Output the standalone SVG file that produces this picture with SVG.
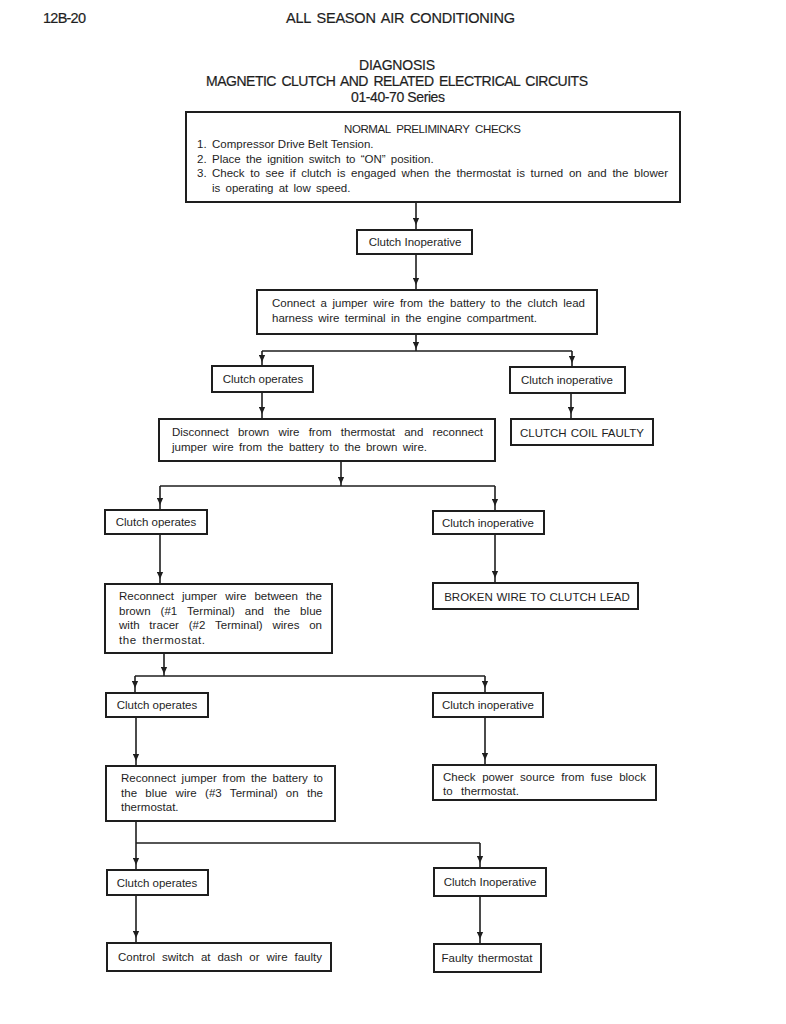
<svg xmlns="http://www.w3.org/2000/svg" width="786" height="1024" viewBox="0 0 786 1024">
<defs>
<style>
text{font-family:"Liberation Sans",Arial,sans-serif;fill:#1e1e1e;font-size:11.5px;word-spacing:2px}
.hdr{font-size:14.5px;stroke:#1e1e1e;stroke-width:0.2px;word-spacing:0}
.ttl{font-size:14px;stroke:#1e1e1e;stroke-width:0.2px;word-spacing:0}
.c{text-anchor:middle}
.nw{word-spacing:0}
.box{fill:none;stroke:#1e1e1e;stroke-width:2}
.con{fill:none;stroke:#1e1e1e;stroke-width:1.6;marker-mid:url(#ah)}
.ln{fill:none;stroke:#1e1e1e;stroke-width:1.6}
</style>
<marker id="ah" viewBox="0 0 10 10" refX="10" refY="5" markerWidth="8" markerHeight="7" markerUnits="userSpaceOnUse" orient="auto">
<path d="M0,0.5 L10,5 L0,9.5 z" fill="#1e1e1e"/>
</marker>
</defs>
<rect width="786" height="1024" fill="#ffffff"/>

<g id="header">
<text class="hdr" x="43" y="23" textLength="43">12B-20</text>
<text class="hdr" x="286" y="23" textLength="229" style="word-spacing:2px">ALL SEASON AIR CONDITIONING</text>
<text class="ttl" x="359" y="70" textLength="76">DIAGNOSIS</text>
<text class="ttl" x="206" y="86" textLength="382" style="word-spacing:2px">MAGNETIC CLUTCH AND RELATED ELECTRICAL CIRCUITS</text>
<text class="ttl" x="351" y="102" textLength="94">01-40-70 Series</text>
</g>

<g id="connectors">
<path class="con" d="M416,202 L416,225 L416,230"/>
<path class="con" d="M416,254 L416,285 L416,290"/>
<path class="con" d="M416,334 L416,349 L416,351"/>
<path class="ln" d="M262,351 L572,351"/>
<path class="con" d="M262,351 L262,362 L262,366"/>
<path class="con" d="M572,351 L572,363 L572,367"/>
<path class="con" d="M262,392 L262,414 L262,419"/>
<path class="con" d="M571,393 L571,414 L571,419"/>
<path class="con" d="M341,461 L341,484 L341,486"/>
<path class="ln" d="M160,486 L495,486"/>
<path class="con" d="M160,486 L160,505 L160,510"/>
<path class="con" d="M495,486 L495,506 L495,511"/>
<path class="con" d="M160,534 L160,579 L160,584"/>
<path class="con" d="M495,534 L495,578 L495,583"/>
<path class="con" d="M164,653 L164,674 L164,676"/>
<path class="ln" d="M135,676 L485,676"/>
<path class="con" d="M135,676 L135,688 L135,693"/>
<path class="con" d="M485,676 L485,688 L485,693"/>
<path class="con" d="M136,717 L136,761 L136,766"/>
<path class="con" d="M485,717 L485,760 L485,765"/>
<path class="con" d="M136,821 L136,865 L136,870"/>
<path class="ln" d="M136,843 L480,843"/>
<path class="con" d="M480,843 L480,863 L480,868"/>
<path class="con" d="M136,895 L136,938 L136,943"/>
<path class="con" d="M480,896 L480,939 L480,944"/>
</g>

<g id="n-preliminary">
<rect class="box" x="186" y="112" width="494" height="90"/>
<text x="344" y="133" textLength="177" style="word-spacing:3px">NORMAL PRELIMINARY CHECKS</text>
<text x="197" y="148">1.</text>
<text x="212" y="148" class="nw">Compressor Drive Belt Tension.</text>
<text x="197" y="162.5">2.</text>
<text x="212" y="162.5">Place the ignition switch to “ON” position.</text>
<text x="197" y="177">3.</text>
<text x="212" y="177" textLength="456" style="word-spacing:2.5px">Check to see if clutch is engaged when the thermostat is turned on and the blower</text>
<text x="212" y="191.5">is operating at low speed.</text>
</g>

<g id="n-clutch-inop-0">
<rect class="box" x="357" y="230" width="115" height="24"/>
<text class="c nw" x="415" y="246">Clutch Inoperative</text>
</g>

<g id="n-connect">
<rect class="box" x="257" y="290" width="340" height="44"/>
<text x="272" y="307" textLength="313" style="word-spacing:2.4px">Connect a jumper wire from the battery to the clutch lead</text>
<text x="272" y="322" textLength="265" style="word-spacing:2.2px">harness wire terminal in the engine compartment.</text>
</g>

<g id="n-operates-1">
<rect class="box" x="212" y="366" width="101" height="26"/>
<text class="c nw" x="263" y="383">Clutch operates</text>
</g>

<g id="n-inop-1">
<rect class="box" x="510" y="367" width="115" height="26"/>
<text class="c nw" x="567" y="384">Clutch inoperative</text>
</g>

<g id="n-disconnect">
<rect class="box" x="159" y="419" width="336" height="42"/>
<text x="172" y="436" textLength="311" style="word-spacing:6px">Disconnect brown wire from thermostat and reconnect</text>
<text x="172" y="451" textLength="255" style="word-spacing:2.25px">jumper wire from the battery to the brown wire.</text>
</g>

<g id="n-coil-faulty">
<rect class="box" x="511" y="419" width="142" height="26"/>
<text class="c" x="582" y="437" style="word-spacing:1px">CLUTCH COIL FAULTY</text>
</g>

<g id="n-operates-2">
<rect class="box" x="105" y="510" width="102" height="24"/>
<text class="c nw" x="156" y="526">Clutch operates</text>
</g>

<g id="n-inop-2">
<rect class="box" x="433" y="511" width="111" height="23"/>
<text class="c nw" x="488" y="527">Clutch inoperative</text>
</g>

<g id="n-reconnect-1">
<rect class="box" x="105" y="584" width="227" height="69"/>
<text x="119" y="600" textLength="203" style="word-spacing:4.9px">Reconnect jumper wire between the</text>
<text x="119" y="614.5" textLength="203" style="word-spacing:6.7px">brown (#1 Terminal) and the blue</text>
<text x="119" y="629" textLength="203" style="word-spacing:6.5px">with tracer (#2 Terminal) wires on</text>
<text x="119" y="644" textLength="86">the thermostat.</text>
</g>

<g id="n-broken-wire">
<rect class="box" x="433" y="583" width="205" height="26"/>
<text class="c" x="537" y="601" style="word-spacing:0.5px">BROKEN WIRE TO CLUTCH LEAD</text>
</g>

<g id="n-operates-3">
<rect class="box" x="106" y="693" width="102" height="24"/>
<text class="c nw" x="157" y="709">Clutch operates</text>
</g>

<g id="n-inop-3">
<rect class="box" x="433" y="693" width="110" height="24"/>
<text class="c nw" x="488" y="709">Clutch inoperative</text>
</g>

<g id="n-reconnect-2">
<rect class="box" x="106" y="766" width="229" height="55"/>
<text x="121" y="782" textLength="202" style="word-spacing:2.4px">Reconnect jumper from the battery to</text>
<text x="121" y="796.5" textLength="202" style="word-spacing:5px">the blue wire (#3 Terminal) on the</text>
<text x="121" y="811">thermostat.</text>
</g>

<g id="n-check-power">
<rect class="box" x="433" y="765" width="223" height="35"/>
<text x="443" y="781" textLength="203" style="word-spacing:3.4px">Check power source from fuse block</text>
<text x="443" y="795" textLength="76" style="word-spacing:5px">to thermostat.</text>
</g>

<g id="n-operates-4">
<rect class="box" x="107" y="870" width="101" height="25"/>
<text class="c nw" x="157" y="887">Clutch operates</text>
</g>

<g id="n-inop-4">
<rect class="box" x="434" y="868" width="112" height="28"/>
<text class="c nw" x="490" y="886">Clutch Inoperative</text>
</g>

<g id="n-control-switch">
<rect class="box" x="107" y="943" width="224" height="28"/>
<text x="118" y="961" textLength="204" style="word-spacing:3.7px">Control switch at dash or wire faulty</text>
</g>

<g id="n-faulty-thermostat">
<rect class="box" x="434" y="944" width="107" height="28"/>
<text class="c" x="487" y="962">Faulty thermostat</text>
</g>
</svg>
